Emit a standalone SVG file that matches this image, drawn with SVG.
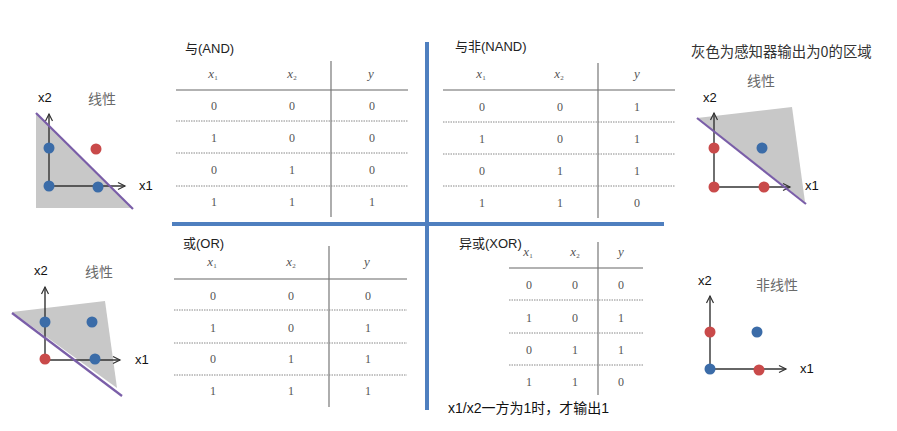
<svg xmlns="http://www.w3.org/2000/svg" width="897" height="431" viewBox="0 0 897 431">
<defs>
<marker id="arr" markerUnits="userSpaceOnUse" markerWidth="10" markerHeight="10" viewBox="0 0 10 10" refX="8" refY="5" orient="auto">
<path d="M1,1.5 L8,5 L1,8.5" fill="none" stroke="#333" stroke-width="1.2"/>
</marker>
</defs>
<style>
.lbl{font-family:"Liberation Sans","Noto Sans CJK SC",sans-serif;font-size:13px;fill:#111}
.cn{font-family:"Noto Sans CJK SC","Liberation Sans",sans-serif;font-size:14px;fill:#6a6a6a}
.ttl{font-family:"Liberation Sans","Noto Sans CJK SC",sans-serif;font-size:13px;fill:#222}
.td{font-family:"Liberation Serif","DejaVu Serif",serif;font-size:12px;fill:#555;text-anchor:middle}
.th{font-family:"Liberation Serif","DejaVu Serif",serif;font-size:13px;fill:#555;text-anchor:middle;font-style:italic}
.sub{font-size:7px;font-style:normal}
.axis{stroke:#333;stroke-width:1.4;fill:none}
.gray{fill:#c8c8c8}
.sep{stroke:#7a5ea8;stroke-width:2.2}
.b{fill:#3b6ca8}
.r{fill:#c94a4a}
.hr{stroke:#666;stroke-width:1.2}
.vr{stroke:#777;stroke-width:1.2}
.dr{stroke:#888;stroke-width:1;stroke-dasharray:1.5,1}
.bl{stroke:#4f7fbf;stroke-width:4}
</style>
<rect width="897" height="431" fill="#fff"/>

<g id="dividers">
<line class="bl" x1="427" y1="42" x2="427" y2="410"/>
<line class="bl" x1="172" y1="224" x2="664" y2="224"/>
</g>

<g id="plot-and">
<polygon class="gray" points="36,113 36,208 132,208"/>
<line class="axis" x1="49" y1="186" x2="49" y2="114" marker-end="url(#arr)"/>
<line class="axis" x1="49" y1="186" x2="125" y2="186" marker-end="url(#arr)"/>
<line class="sep" x1="36" y1="113" x2="133" y2="209"/>
<circle class="b" cx="49" cy="148" r="5.5"/>
<circle class="b" cx="49" cy="186" r="5.5"/>
<circle class="b" cx="98" cy="187" r="5.5"/>
<circle class="r" cx="96" cy="149" r="5.5"/>
<text class="lbl" x="38" y="102">x2</text>
<text class="cn" x="88" y="104">线性</text>
<text class="lbl" x="139" y="190">x1</text>
</g>

<g id="plot-or">
<polygon class="gray" points="12,312 105,301 117,388"/>
<line class="axis" x1="45" y1="360" x2="45" y2="287" marker-end="url(#arr)"/>
<line class="axis" x1="45" y1="360" x2="120" y2="360" marker-end="url(#arr)"/>
<line class="sep" x1="12" y1="313" x2="122" y2="396"/>
<circle class="b" cx="45" cy="322" r="5.5"/>
<circle class="b" cx="92" cy="322" r="5.5"/>
<circle class="r" cx="45" cy="359" r="5.5"/>
<circle class="b" cx="95" cy="359" r="5.5"/>
<text class="lbl" x="34" y="275">x2</text>
<text class="cn" x="85" y="277">线性</text>
<text class="lbl" x="135" y="364">x1</text>
</g>

<g id="plot-nand">
<text class="cn" x="691" y="57" style="fill:#333;font-size:14.4px">灰色为感知器输出为0的区域</text>
<polygon class="gray" points="697,118 792,107 805,202"/>
<line class="axis" x1="714" y1="187" x2="714" y2="113" marker-end="url(#arr)"/>
<line class="axis" x1="714" y1="187" x2="790" y2="187" marker-end="url(#arr)"/>
<line class="sep" x1="697" y1="118" x2="806" y2="204"/>
<circle class="r" cx="714" cy="148" r="5.5"/>
<circle class="b" cx="762" cy="148" r="5.5"/>
<circle class="r" cx="714" cy="187" r="5.5"/>
<circle class="r" cx="764" cy="187" r="5.5"/>
<text class="cn" x="747" y="86">线性</text>
<text class="lbl" x="703" y="102">x2</text>
<text class="lbl" x="805" y="190">x1</text>
</g>

<g id="plot-xor">
<line class="axis" x1="710" y1="369" x2="710" y2="296" marker-end="url(#arr)"/>
<line class="axis" x1="710" y1="369" x2="786" y2="369" marker-end="url(#arr)"/>
<circle class="r" cx="710" cy="332" r="5.5"/>
<circle class="b" cx="757" cy="332" r="5.5"/>
<circle class="b" cx="710" cy="369" r="5.5"/>
<circle class="r" cx="759" cy="370" r="5.5"/>
<text class="lbl" x="698" y="285">x2</text>
<text class="cn" x="756" y="290">非线性</text>
<text class="lbl" x="800" y="373">x1</text>
</g>

<g id="table-and">
<text class="ttl" x="185" y="53">与(AND)</text>
<text class="th" x="213" y="78">x<tspan class="sub" dy="2">1</tspan></text>
<text class="th" x="292" y="78">x<tspan class="sub" dy="2">2</tspan></text>
<text class="th" x="371" y="78">y</text>
<line class="hr" x1="176" y1="90" x2="408" y2="90"/>
<line class="vr" x1="331" y1="61" x2="331" y2="217"/>
<line class="dr" x1="176" y1="121" x2="408" y2="121"/>
<line class="dr" x1="176" y1="153" x2="408" y2="153"/>
<line class="dr" x1="176" y1="186" x2="408" y2="186"/>
<text class="td" x="214" y="110">0</text><text class="td" x="292" y="110">0</text><text class="td" x="372" y="110">0</text>
<text class="td" x="214" y="142">1</text><text class="td" x="292" y="142">0</text><text class="td" x="372" y="142">0</text>
<text class="td" x="214" y="174">0</text><text class="td" x="292" y="174">1</text><text class="td" x="372" y="174">0</text>
<text class="td" x="214" y="206">1</text><text class="td" x="292" y="206">1</text><text class="td" x="372" y="206">1</text>
</g>

<g id="table-nand">
<text class="ttl" x="455" y="51">与非(NAND)</text>
<text class="th" x="481" y="78">x<tspan class="sub" dy="2">1</tspan></text>
<text class="th" x="559" y="78">x<tspan class="sub" dy="2">2</tspan></text>
<text class="th" x="637" y="78">y</text>
<line class="hr" x1="443" y1="90" x2="675" y2="90"/>
<line class="vr" x1="598" y1="63" x2="598" y2="218"/>
<line class="dr" x1="443" y1="122" x2="675" y2="122"/>
<line class="dr" x1="443" y1="154" x2="675" y2="154"/>
<line class="dr" x1="443" y1="186" x2="675" y2="186"/>
<text class="td" x="482" y="111">0</text><text class="td" x="560" y="111">0</text><text class="td" x="637" y="111">1</text>
<text class="td" x="482" y="143">1</text><text class="td" x="560" y="143">0</text><text class="td" x="637" y="143">1</text>
<text class="td" x="482" y="175">0</text><text class="td" x="560" y="175">1</text><text class="td" x="637" y="175">1</text>
<text class="td" x="482" y="207">1</text><text class="td" x="560" y="207">1</text><text class="td" x="637" y="207">0</text>
</g>

<g id="table-or">
<text class="ttl" x="183" y="248">或(OR)</text>
<text class="th" x="212" y="266">x<tspan class="sub" dy="2">1</tspan></text>
<text class="th" x="291" y="266">x<tspan class="sub" dy="2">2</tspan></text>
<text class="th" x="367" y="266">y</text>
<line class="hr" x1="174" y1="279" x2="407" y2="279"/>
<line class="vr" x1="329" y1="246" x2="329" y2="407"/>
<line class="dr" x1="174" y1="310" x2="407" y2="310"/>
<line class="dr" x1="174" y1="343" x2="407" y2="343"/>
<line class="dr" x1="174" y1="375" x2="407" y2="375"/>
<text class="td" x="213" y="300">0</text><text class="td" x="291" y="300">0</text><text class="td" x="368" y="300">0</text>
<text class="td" x="213" y="332">1</text><text class="td" x="291" y="332">0</text><text class="td" x="368" y="332">1</text>
<text class="td" x="213" y="363">0</text><text class="td" x="291" y="363">1</text><text class="td" x="368" y="363">1</text>
<text class="td" x="213" y="395">1</text><text class="td" x="291" y="395">1</text><text class="td" x="368" y="395">1</text>
</g>

<g id="table-xor">
<text class="ttl" x="459" y="248">异或(XOR)</text>
<text class="th" x="528" y="256">x<tspan class="sub" dy="2">1</tspan></text>
<text class="th" x="575" y="256">x<tspan class="sub" dy="2">2</tspan></text>
<text class="th" x="621" y="256">y</text>
<line class="hr" x1="509" y1="268" x2="643" y2="268"/>
<line class="vr" x1="598" y1="242" x2="598" y2="395"/>
<line class="dr" x1="509" y1="300" x2="643" y2="300"/>
<line class="dr" x1="509" y1="333" x2="643" y2="333"/>
<line class="dr" x1="509" y1="365" x2="643" y2="365"/>
<text class="td" x="529" y="289">0</text><text class="td" x="575" y="289">0</text><text class="td" x="621" y="289">0</text>
<text class="td" x="529" y="322">1</text><text class="td" x="575" y="322">0</text><text class="td" x="621" y="322">1</text>
<text class="td" x="529" y="354">0</text><text class="td" x="575" y="354">1</text><text class="td" x="621" y="354">1</text>
<text class="td" x="529" y="386">1</text><text class="td" x="575" y="386">1</text><text class="td" x="621" y="386">0</text>
<text class="ttl" x="448" y="413" style="font-size:14px;fill:#111">x1/x2一方为1时，才输出1</text>
</g>
</svg>
